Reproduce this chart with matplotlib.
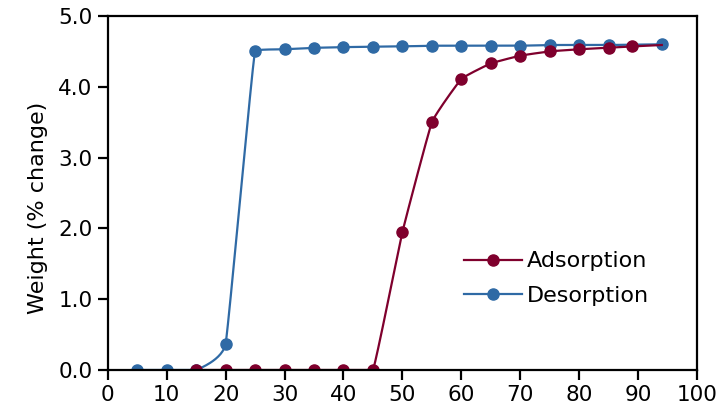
import numpy as np
import matplotlib
matplotlib.use("Agg")
import matplotlib.pyplot as plt

# Data (relative humidity %, weight % change)
ads_rh = [15, 20, 25, 30, 35, 40, 45, 50, 55, 60, 65, 70, 75, 80, 85, 89, 94]
ads_wt = [0, 0, 0, 0, 0, 0, 0, 1.95, 3.50, 4.11, 4.33, 4.44, 4.50, 4.53, 4.55, 4.57, 4.59]

des_rh = [94, 85, 80, 75, 70, 65, 60, 55, 50, 45, 40, 35, 30, 25, 20, 15, 10, 5]
des_wt = [4.60, 4.59, 4.59, 4.59, 4.58, 4.58, 4.58, 4.58, 4.57, 4.565, 4.56, 4.55, 4.53, 4.51, 0.37, 0, 0, 0]

x_ticks = list(range(0, 101, 10))
y_ticks = [0, 1, 2, 3, 4, 5]

ADS_COLOR = "#7f002d"
DES_COLOR = "#2f6aa5"


def smooth(x, y, n=30, tension=20):
    # lightly smoothed line through the points (catmull-rom style bezier),
    # control points kept inside each segment's y-range so it doesn't overshoot
    x = np.asarray(x, float)
    y = np.asarray(y, float)
    order = np.argsort(x)
    x, y = x[order], y[order]
    pts = np.column_stack([x, y])
    pts = np.vstack([pts[0], pts, pts[-1]])
    xs, ys = [], []
    t = np.linspace(0, 1, n)[:, None]
    for k in range(1, len(pts) - 2):
        p0, p1, p2, p3 = pts[k - 1], pts[k], pts[k + 1], pts[k + 2]
        c1 = p1 + (p2 - p0) / tension
        c2 = p2 - (p3 - p1) / tension
        lo, hi = min(p1[1], p2[1]), max(p1[1], p2[1])
        c1[1] = np.clip(c1[1], lo, hi)
        c2[1] = np.clip(c2[1], lo, hi)
        b = ((1 - t)**3 * p1 + 3 * (1 - t)**2 * t * c1
             + 3 * (1 - t) * t**2 * c2 + t**3 * p2)
        xs.append(b[:, 0])
        ys.append(b[:, 1])
    return np.concatenate(xs), np.concatenate(ys)


plt.rcParams["font.family"] = ["DejaVu Sans"]

fig = plt.figure(figsize=(7.18, 4.16), dpi=100)
ax = fig.add_axes([0.150, 0.1106, 0.821, 0.851])

sx, sy = smooth(des_rh, des_wt)
ax.plot(sx, sy, color=DES_COLOR, lw=1.6, zorder=2)
ax.plot(des_rh, des_wt, "o", color=DES_COLOR, ms=8, zorder=2)

sx, sy = smooth(ads_rh, ads_wt)
ax.plot(sx, sy, color=ADS_COLOR, lw=1.6, zorder=3)
ax.plot(ads_rh[:-1], ads_wt[:-1], "o", color=ADS_COLOR, ms=8, zorder=3)

# legend proxies
ax.plot([], [], "-o", color=ADS_COLOR, lw=1.6, ms=8, label="Adsorption")
ax.plot([], [], "-o", color=DES_COLOR, lw=1.6, ms=8, label="Desorption")

ax.set_xlim(0, 100)
ax.set_ylim(0, 5)
ax.set_xticks(x_ticks)
ax.set_yticks(y_ticks)
ax.set_yticklabels([f"{v:.1f}" for v in y_ticks])
ax.set_ylabel("Weight (% change)", fontsize=16)
ax.yaxis.set_label_coords(-0.102, 0.458)

for s in ax.spines.values():
    s.set_linewidth(1.6)
    s.set_zorder(4)
ax.tick_params(direction="out", length=7, width=1.6, labelsize=15.5, pad=4)

ax.legend(loc="upper left", bbox_to_anchor=(0.605, 0.335), frameon=False,
          fontsize=16, handlelength=2.6, handletextpad=0.2, labelspacing=0.65,
          borderaxespad=0, borderpad=0)

fig.savefig("out.png", dpi=100)
